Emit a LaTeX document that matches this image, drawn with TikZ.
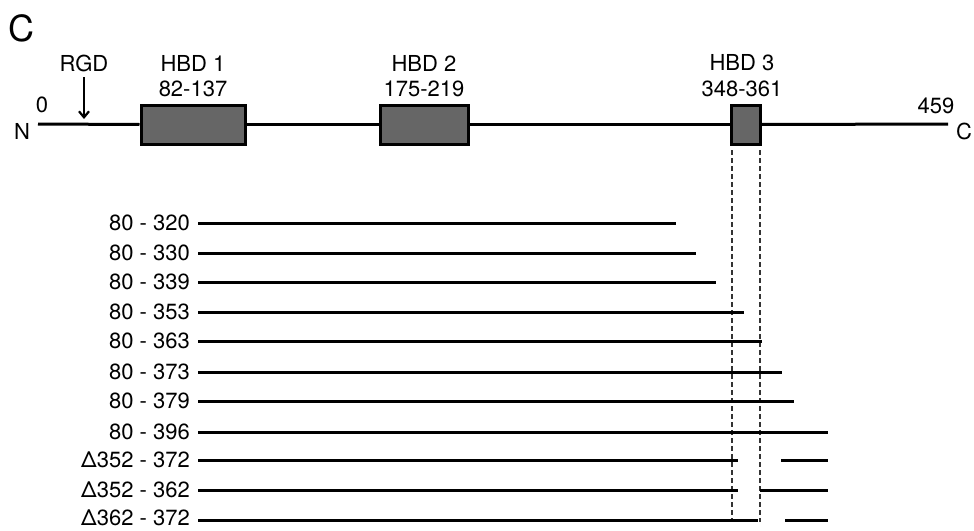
\documentclass[tikz,border=0pt]{standalone}
\usepackage{fontspec}
\setmainfont{TeX Gyre Heros}
\usetikzlibrary{arrows.meta}
\begin{document}
\begin{tikzpicture}[x=1pt,y=-1pt,
  lbl/.style={font=\fontsize{22}{24}\selectfont, inner sep=0pt},
  rowlbl/.style={lbl, anchor=east},
  seg/.style={line width=3pt},
  hbd/.style={draw, line width=3pt, fill=black!60, inner sep=0pt},
  guide/.style={line width=2pt, black!80, dash pattern=on 5pt off 3pt}]
\useasboundingbox (0,0) rectangle (974,530);
\node[font=\fontsize{36}{38}\selectfont, inner sep=0pt] (panel) at (21,28) {C};
% main line
\node[lbl] (N) at (22,131) {N};
\node[lbl] (zero) at (42,105) {0};
\node[lbl] (Cterm) at (964,131) {C};
\node[lbl] (end) at (936,106) {459};
\coordinate (ms) at (38,124);
\coordinate (me) at (948,124);
\node[hbd, minimum width=104pt, minimum height=39pt] (h1) at (193,124.5) {};
\node[hbd, minimum width=88pt, minimum height=39pt] (h2) at (424,124.5) {};
\node[hbd, minimum width=29pt, minimum height=39pt] (h3) at (745.5,124.5) {};
\draw[seg] (ms) -- (h1.west);
\draw[seg] (h1.east) -- (h2.west);
\draw[seg] (h2.east) -- (h3.west);
\draw[seg] (h3.east) -- (me);
\node[lbl] (rgd) at (84,63) {RGD};
\coordinate (rgdtail) at (84,77);
\coordinate (rgdtip) at (84,119);
\draw[line width=2.2pt, -{Straight Barb[length=6pt,width=10pt]}] (rgdtail) -- (rgdtip);
\node[lbl] (h1a) at (193,63) {HBD 1};
\node[lbl] (h1b) at (193,89) {82-137};
\node[lbl] (h2a) at (424,63) {HBD 2};
\node[lbl] (h2b) at (424,89) {175-219};
\node[lbl] (h3a) at (742,63) {HBD 3};
\node[lbl] (h3b) at (742,89) {348-361};
% guides
\coordinate (g1t) at (732,150); \coordinate (g1b) at (732,522);
\coordinate (g2t) at (760,150); \coordinate (g2b) at (760,522);
\draw[guide] (g1t) -- (g1b);
\draw[guide] (g2t) -- (g2b);
% rows
\foreach \i/\y/\t/\e in {1/223/80 - 320/676, 2/253/80 - 330/696, 3/282/80 - 339/716,
  4/312/80 - 353/744, 5/341/80 - 363/762, 6/372/80 - 373/782, 7/401/80 - 379/794, 8/432/80 - 396/828}{
  \node[rowlbl] (r\i) at (190,\y) {\t};
  \coordinate (rs\i) at (198,\y);
  \coordinate (re\i) at (\e,\y);
  \draw[seg] (rs\i) -- (re\i);
}
\node[rowlbl] (r9) at (190,460) {Δ352 - 372};
\coordinate (s9) at (198,460); \coordinate (a9) at (738,460); \coordinate (b9) at (781,460); \coordinate (c9) at (828,460);
\draw[seg] (s9) -- (a9); \draw[seg] (b9) -- (c9);
\node[rowlbl] (r10) at (190,490) {Δ352 - 362};
\coordinate (s10) at (198,490); \coordinate (a10) at (738,490); \coordinate (b10) at (760,490); \coordinate (c10) at (828,490);
\draw[seg] (s10) -- (a10); \draw[seg] (b10) -- (c10);
\node[rowlbl] (r11) at (190,518) {Δ362 - 372};
\coordinate (s11) at (198,520); \coordinate (a11) at (758,520); \coordinate (b11) at (785,520); \coordinate (c11) at (828,520);
\draw[seg] (s11) -- (a11); \draw[seg] (b11) -- (c11);
\end{tikzpicture}
\end{document}
